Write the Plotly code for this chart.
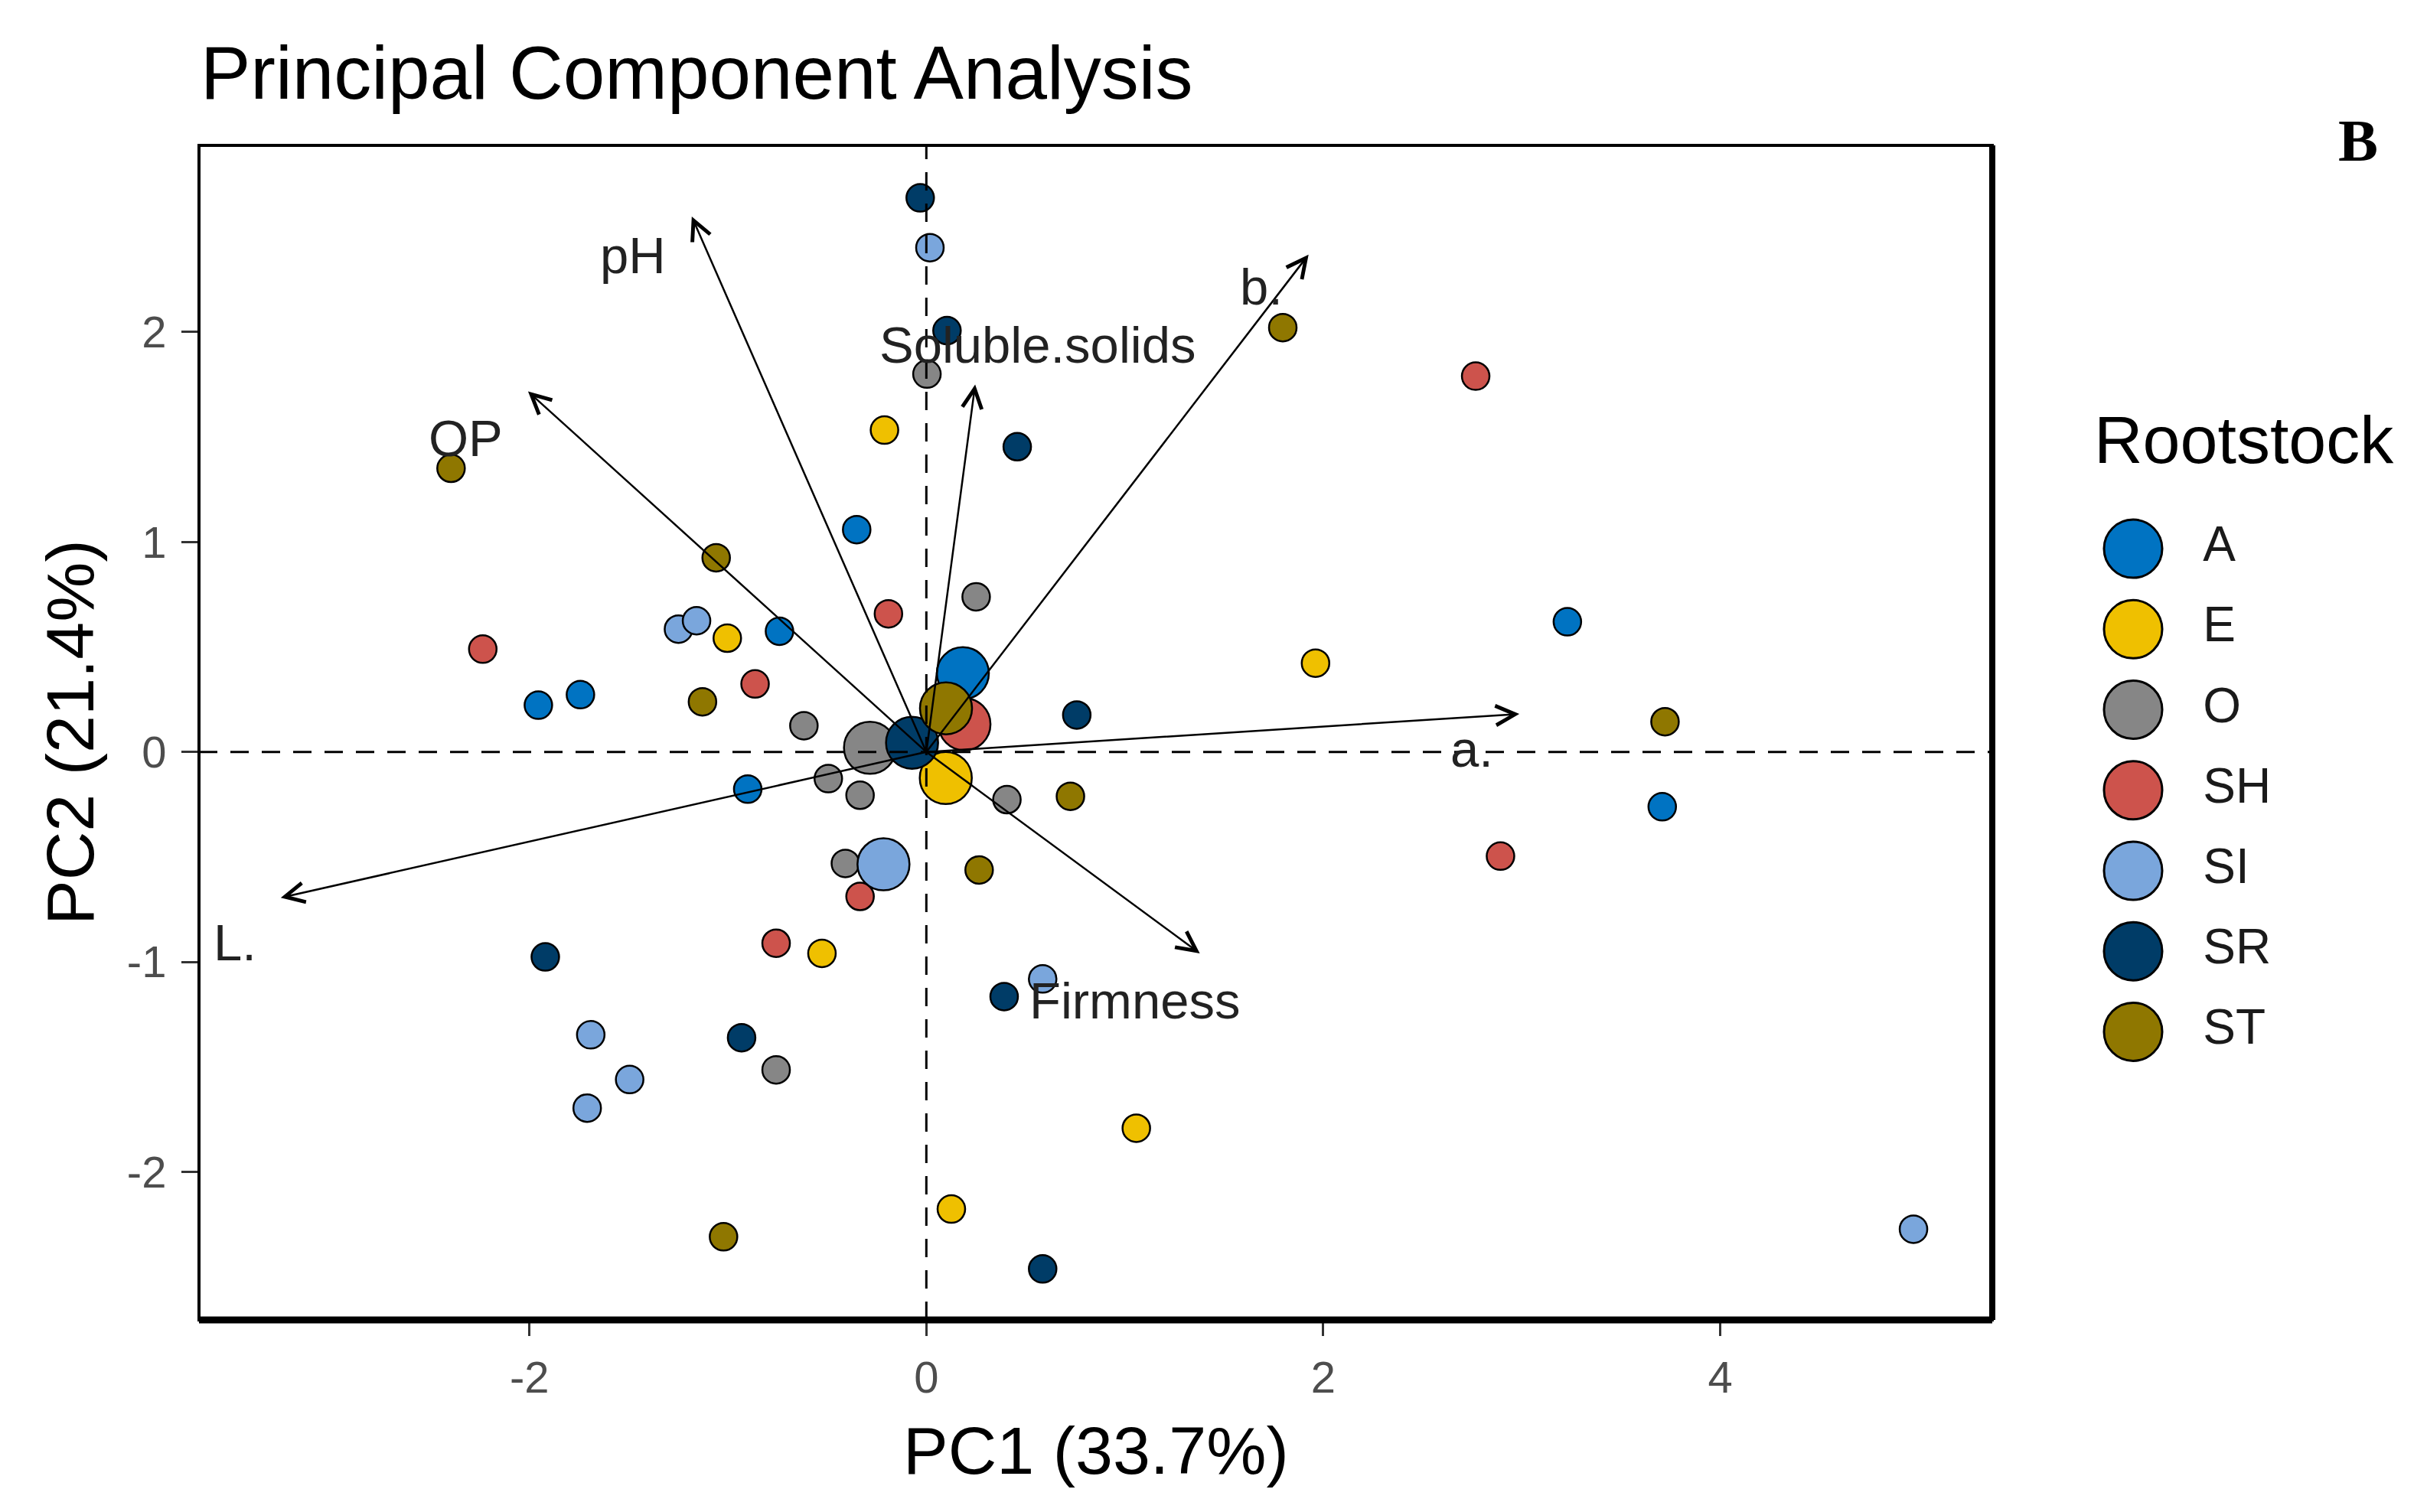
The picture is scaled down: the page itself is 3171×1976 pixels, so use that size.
import plotly.graph_objects as go

FONT = "Liberation Sans, Arial, Helvetica, sans-serif"

# ---------------- data ----------------
groups = ["A", "E", "O", "SH", "SI", "SR", "ST"]
group_colors = ["#0073C2", "#EFC000", "#868686", "#CD534C", "#7AA6DC", "#003C67", "#8F7700"]

A_pc1 = [-0.351, -0.740, -1.743, -1.955, 3.230, 3.708, -0.900]
A_pc2 = [1.059, 0.575, 0.273, 0.223, 0.620, -0.261, -0.177]
E_pc1 = [-0.211, -1.003, 1.961, -0.526, 1.058, 0.126]
E_pc2 = [1.533, 0.542, 0.423, -0.959, -1.792, -2.177]
O_pc1 = [0.003, 0.251, -0.617, -0.494, -0.334, -0.408, 0.406, -0.757]
O_pc2 = [1.800, 0.739, 0.125, -0.127, -0.206, -0.531, -0.227, -1.514]
SH_pc1 = [-0.191, -2.235, -0.863, 2.768, 2.893, -0.334, -0.757]
SH_pc2 = [0.658, 0.490, 0.324, 1.790, -0.496, -0.688, -0.911]
SI_pc1 = [0.018, -1.249, -1.158, 4.974, -1.691, -1.495, -1.709, 0.586]
SI_pc2 = [2.402, 0.585, 0.625, -2.273, -1.347, -1.560, -1.696, -1.081]
SR_pc1 = [-0.031, 0.104, 0.458, 0.758, -1.920, -0.931, 0.392, 0.586]
SR_pc2 = [2.639, 2.007, 1.454, 0.176, -0.976, -1.361, -1.165, -2.462]
ST_pc1 = [1.796, -2.395, -1.059, -1.128, 3.722, 0.726, 0.266, -1.022]
ST_pc2 = [2.021, 1.351, 0.925, 0.239, 0.144, -0.211, -0.562, -2.309]

centroid_pc1 = [0.184, 0.098, -0.284, 0.192, -0.216, -0.072, 0.099]
centroid_pc2 = [0.375, -0.124, 0.020, 0.132, -0.535, 0.044, 0.208]

variables = ["pH", "OP", "Soluble.solids", "b.", "a.", "L.", "Firmness"]
loading_pc1 = [-1.182, -2.007, 0.246, 1.926, 2.988, -3.253, 1.378]
loading_pc2 = [2.550, 1.717, 1.750, 2.369, 0.181, -0.694, -0.959]
label_pc1 = [-1.478, -2.320, 0.558, 1.688, 2.749, -3.483, 1.048]
label_pc2 = [2.366, 1.496, 1.938, 2.218, 0.014, -0.907, -1.185]

x_ticks = [-2, 0, 2, 4]
x_ticklabels = ["-2", "0", "2", "4"]
y_ticks = [-2, -1, 0, 1, 2]
y_ticklabels = ["-2", "-1", "0", "1", "2"]

title_text = "Principal Component Analysis"
x_title = "PC1 (33.7%)"
y_title = "PC2 (21.4%)"
legend_title = "Rootstock"
panel_tag = "B"

# ---------------- layout geometry (page pixels; page body has an 8px margin) ----------------
OFF = 8
W, H = 3171 - 2 * OFF, 1976 - 2 * OFF
PLOT_L, PLOT_R, PLOT_T, PLOT_B = 260, 2603, 190, 1725   # panel edges on the page
ML = PLOT_L - OFF
MT = PLOT_T - OFF
MB = H - (PLOT_B - OFF)
MR = 0
PW = W - ML - MR
PH = H - MT - MB


def px(xp):
    return (xp - OFF - ML) / PW


def py(yp):
    return (H - MB - (yp - OFF)) / PH


x_dom_end = px(PLOT_R)

group_pc1 = [A_pc1, E_pc1, O_pc1, SH_pc1, SI_pc1, SR_pc1, ST_pc1]
group_pc2 = [A_pc2, E_pc2, O_pc2, SH_pc2, SI_pc2, SR_pc2, ST_pc2]

fig = go.Figure()

for g, col, xs, ys in zip(groups, group_colors, group_pc1, group_pc2):
    fig.add_trace(go.Scatter(
        x=xs, y=ys, mode="markers", name=g, showlegend=False,
        marker=dict(size=36, color=col, line=dict(color="black", width=2.5)),
        xaxis="x", yaxis="y", cliponaxis=False,
    ))

for i, g in enumerate(groups):
    fig.add_trace(go.Scatter(
        x=[centroid_pc1[i]], y=[centroid_pc2[i]], mode="markers", showlegend=False,
        marker=dict(size=68, color=group_colors[i], line=dict(color="black", width=2.5)),
        xaxis="x", yaxis="y",
    ))

# legend drawn on its own hidden axes
fig.add_trace(go.Scatter(
    x=[0] * len(groups), y=groups, mode="markers", showlegend=False,
    marker=dict(size=76, color=group_colors, line=dict(color="black", width=3)),
    xaxis="x2", yaxis="y2", cliponaxis=False,
))
fig.add_trace(go.Scatter(
    x=[1.1] * len(groups), y=groups, mode="text", text=groups, showlegend=False,
    textposition="middle right",
    textfont=dict(family=FONT, size=64, color="#1a1a1a"),
    xaxis="x2", yaxis="y2", cliponaxis=False,
))

annotations = []
# loading arrows
for i in range(len(variables)):
    annotations.append(dict(
        x=loading_pc1[i], y=loading_pc2[i], ax=0, ay=0,
        xref="x", yref="y", axref="x", ayref="y",
        text="", showarrow=True, arrowhead=5, arrowsize=2.0, arrowwidth=2.5,
        arrowcolor="black", standoff=0, startstandoff=0,
    ))
# loading labels
for i in range(len(variables)):
    annotations.append(dict(
        x=label_pc1[i], y=label_pc2[i], xref="x", yref="y",
        text=variables[i], showarrow=False,
        font=dict(family=FONT, size=67, color="#222222"),
        xanchor="center", yanchor="middle",
    ))

annotations += [
    dict(x=px(PLOT_L), y=py(95), xref="paper", yref="paper", text=title_text,
         showarrow=False, xanchor="left", yanchor="middle",
         font=dict(family=FONT, size=98, color="black")),
    dict(x=px(1432), y=py(1895), xref="paper", yref="paper",
         text=x_title, showarrow=False, xanchor="center", yanchor="middle",
         font=dict(family=FONT, size=88, color="black")),
    dict(x=px(91), y=py(957), xref="paper", yref="paper",
         text=y_title, showarrow=False, xanchor="center", yanchor="middle", textangle=-90,
         font=dict(family=FONT, size=88, color="black")),
    dict(x=px(2734), y=py(574), xref="paper", yref="paper",
         text=legend_title, showarrow=False, xanchor="left", yanchor="middle",
         font=dict(family=FONT, size=88, color="black")),
    dict(x=px(3081), y=py(184), xref="paper", yref="paper",
         text="<b>" + panel_tag + "</b>", showarrow=False, xanchor="center", yanchor="middle",
         font=dict(family="Liberation Serif, Times New Roman, serif", size=78, color="black")),
]

shapes = [
    # dashed zero lines
    dict(type="line", xref="x", yref="y domain", x0=0, x1=0, y0=0, y1=1,
         line=dict(color="black", width=3, dash="24px,17px"), layer="above"),
    dict(type="line", xref="x domain", yref="y", x0=0, x1=1, y0=0, y1=0,
         line=dict(color="black", width=3, dash="24px,17px"), layer="above"),
    # panel border
    dict(type="rect", xref="x domain", yref="y domain", x0=0, x1=1, y0=0, y1=1,
         line=dict(color="black", width=4), layer="above"),
    dict(type="line", xref="x domain", yref="y domain", x0=0, x1=1, y0=0, y1=0,
         line=dict(color="black", width=9), layer="above"),
    dict(type="line", xref="x domain", yref="y domain", x0=1, x1=1, y0=0, y1=1,
         line=dict(color="black", width=8), layer="above"),
]

tickfont = dict(family=FONT, size=58, color="#4D4D4D")

fig.update_layout(
    width=W, height=H,
    margin=dict(l=ML, r=MR, t=MT, b=MB, pad=0),
    paper_bgcolor="white", plot_bgcolor="white",
    showlegend=False,
    font=dict(family=FONT),
    xaxis=dict(domain=[0, x_dom_end], range=[-3.665, 5.371],
               tickmode="array", tickvals=x_ticks, ticktext=x_ticklabels,
               ticks="outside", ticklen=20, tickwidth=2.5, tickcolor="#333333",
               showgrid=False, zeroline=False, showline=False, tickfont=tickfont,
               ticklabelstandoff=4),
    yaxis=dict(domain=[0, 1], range=[-2.705, 2.889],
               tickmode="array", tickvals=y_ticks, ticktext=y_ticklabels,
               ticks="outside", ticklen=22, tickwidth=2.5, tickcolor="#333333",
               showgrid=False, zeroline=False, showline=False, tickfont=tickfont,
               ticklabelstandoff=8),
    xaxis2=dict(domain=[px(2704), px(3154)], range=[-1, 4.422],
                visible=False, anchor="y2", fixedrange=True),
    yaxis2=dict(domain=[py(1401), py(664.5)],
                type="category", categoryorder="array", categoryarray=groups,
                range=[6.5, -0.5], visible=False, anchor="x2", fixedrange=True),
    annotations=annotations,
    shapes=shapes,
)

fig.write_html("out.html")
